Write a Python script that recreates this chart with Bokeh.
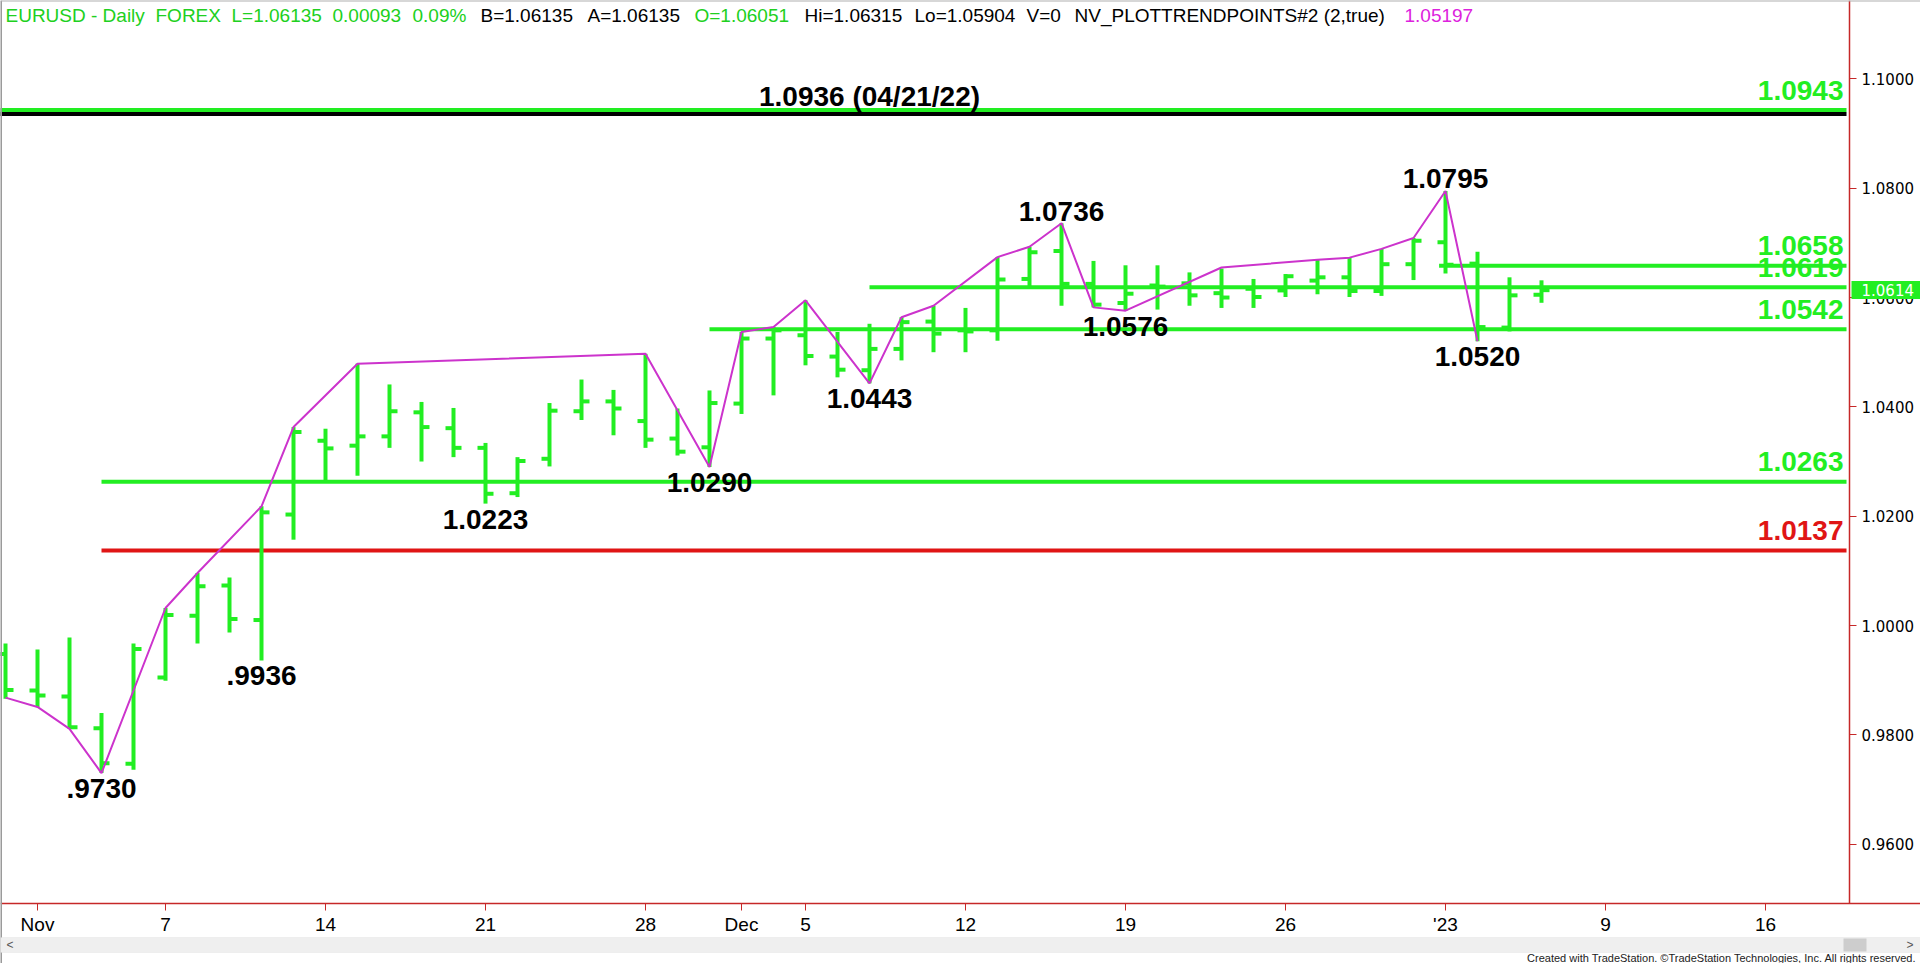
from bokeh.plotting import figure
from bokeh.models import (Range1d, FixedTicker, NumeralTickFormatter, ColumnDataSource,
                          Label, Span, BoxAnnotation)
from bokeh.core.properties import value
from bokeh.embed import file_html
from bokeh.resources import INLINE

# ---------------- data ----------------
dates = ["Oct 31", "Nov 1", "Nov 2", "Nov 3", "Nov 4", "Nov 7", "Nov 8", "Nov 9", "Nov 10", "Nov 11",
         "Nov 14", "Nov 15", "Nov 16", "Nov 17", "Nov 18", "Nov 21", "Nov 22", "Nov 23", "Nov 24", "Nov 25",
         "Nov 28", "Nov 29", "Nov 30", "Dec 1", "Dec 2", "Dec 5", "Dec 6", "Dec 7", "Dec 8", "Dec 9",
         "Dec 12", "Dec 13", "Dec 14", "Dec 15", "Dec 16", "Dec 19", "Dec 20", "Dec 21", "Dec 22", "Dec 23",
         "Dec 26", "Dec 27", "Dec 28", "Dec 29", "Dec 30", "Jan 2", "Jan 3", "Jan 4", "Jan 5"]
opens = [0.9948, 0.9881, 0.9870, 0.9812, 0.9747, 0.9905, 1.0018, 1.0073, 1.0010, 1.0203,
         1.0338, 1.0329, 1.0346, 1.0390, 1.0361, 1.0325, 1.0242, 1.0305, 1.0392, 1.0410,
         1.0374, 1.0342, 1.0326, 1.0406, 1.0525, 1.0531, 1.0492, 1.0467, 1.0506, 1.0556,
         1.0540, 1.0540, 1.0634, 1.0685, 1.0625, 1.0590, 1.0622, 1.0626, 1.0608, 1.0616,
         1.0613, 1.0631, 1.0637, 1.0612, 1.0661, 1.0701, 1.0662, 1.0545, 1.06051]
highs = [0.9967, 0.9956, 0.9978, 0.9840, 0.9967, 1.0032, 1.0096, 1.0088, 1.0218, 1.0363,
         1.0360, 1.0479, 1.0441, 1.0409, 1.0398, 1.0334, 1.0308, 1.0407, 1.0450, 1.0431,
         1.0497, 1.0397, 1.0430, 1.0537, 1.0546, 1.0595, 1.0537, 1.0552, 1.0564, 1.0585,
         1.0581, 1.0674, 1.0693, 1.0736, 1.0667, 1.0659, 1.0659, 1.0646, 1.0653, 1.0634,
         1.0643, 1.0669, 1.0673, 1.0689, 1.0709, 1.0795, 1.0684, 1.0637, 1.06315]
lows = [0.9866, 0.9851, 0.9811, 0.9730, 0.9736, 0.9899, 0.9967, 0.9987, 0.9936, 1.0157,
        1.0262, 1.0274, 1.0325, 1.0300, 1.0308, 1.0223, 1.0235, 1.0291, 1.0376, 1.0348,
        1.0325, 1.0311, 1.0290, 1.0387, 1.0421, 1.0476, 1.0454, 1.0443, 1.0485, 1.0500,
        1.0500, 1.0521, 1.0616, 1.0585, 1.0582, 1.0576, 1.0578, 1.0585, 1.0581, 1.0581,
        1.0601, 1.0606, 1.0601, 1.0603, 1.0632, 1.0644, 1.0520, 1.0538, 1.05904]
closes = [0.9882, 0.9872, 0.9814, 0.9748, 0.9957, 1.0019, 1.0072, 1.0012, 1.0207, 1.0354,
          1.0324, 1.0346, 1.0392, 1.0363, 1.0325, 1.0241, 1.0301, 1.0393, 1.0410, 1.0397,
          1.0340, 1.0318, 1.0407, 1.0525, 1.0540, 1.0493, 1.0468, 1.0506, 1.0555, 1.0534,
          1.0538, 1.0633, 1.0683, 1.0625, 1.0587, 1.0607, 1.0620, 1.0604, 1.0600, 1.0601,
          1.0639, 1.0637, 1.0612, 1.0661, 1.0704, 1.0660, 1.0546, 1.0604, 1.06135]

trend_idx = [0, 1, 2, 3, 5, 6, 8, 9, 11, 20, 22, 23, 24, 25, 27, 28, 29, 31, 32, 33,
             34, 35, 38, 41, 42, 43, 44, 45, 46]
trend_val = [0.9868, 0.9851, 0.9811, 0.9730, 1.0032, 1.0096, 1.0218, 1.0363, 1.0479, 1.0497,
             1.0290, 1.0537, 1.0546, 1.0595, 1.0443, 1.0564, 1.0585, 1.0674, 1.0693, 1.0736,
             1.0582, 1.0576, 1.0655, 1.0669, 1.0673, 1.0689, 1.0709, 1.0795, 1.0520]

level_vals = [1.0936, 1.0943, 1.0658, 1.0619, 1.0542, 1.0263, 1.0137]
level_start = [-1, -1, 44.8, 27, 22, 3, 3]
level_colors = ["black", "#22ee22", "#22ee22", "#22ee22", "#22ee22", "#22ee22", "#e01515"]

right_texts = ["1.0943", "1.0658", "1.0619", "1.0542", "1.0263", "1.0137"]
right_vals = [1.0943, 1.0658, 1.0619, 1.0542, 1.0263, 1.0137]
right_colors = ["#22ee22", "#22ee22", "#22ee22", "#22ee22", "#22ee22", "#e01515"]

low_idx = [3, 8, 15, 22, 27, 35, 46]
low_vals = [0.9730, 0.9936, 1.0223, 1.0290, 1.0443, 1.0576, 1.0520]
low_texts = [".9730", ".9936", "1.0223", "1.0290", "1.0443", "1.0576", "1.0520"]
high_idx = [33, 45]
high_vals = [1.0736, 1.0795]
high_texts = ["1.0736", "1.0795"]

old_high_idx = 27
old_high_val = 1.0936
old_high_text = "1.0936 (04/21/22)"

tick_idx = [1, 5, 10, 15, 20, 23, 25, 30, 35, 40, 45, 50, 55]
tick_labels = ["Nov", "7", "14", "21", "28", "Dec", "5", "12", "19", "26", "'23", "9", "16"]
y_ticks = [0.96, 0.98, 1.00, 1.02, 1.04, 1.06, 1.08, 1.10]

last_price = 1.0614

header_texts = ["EURUSD - Daily", "FOREX", "L=1.06135", "0.00093", "0.09%",
                "B=1.06135", "A=1.06135", "O=1.06051", "Hi=1.06315", "Lo=1.05904",
                "V=0", "NV_PLOTTRENDPOINTS#2 (2,true)", "1.05197"]
header_colors = ["#20d020"] * 5 + ["black", "black", "#20d020"] + ["black"] * 4 + ["#dd22dd"]
header_x = [5, 155, 231, 332, 412, 480, 587, 694, 804, 914, 1026, 1074, 1404]  # page px

# ---------------- geometry (page pixels) ----------------
W, H = 1920, 963
ppx = 32.0          # px per bar
ppy = 5466.0        # px per price unit
x0 = -5 / ppx
x1 = x0 + W / ppx
y_top = 1.1 + 78.4 / ppy
y_bot = y_top - H / ppy


def X(px):
    return x0 + px / ppx


def Y(py):
    return y_top - py / ppy


AX_X = X(1849)      # right price-axis position
AX_Y = Y(903)       # time-axis position

GREEN = "#22ee22"
MAG = "#cc33cc"
AXRED = "#c62828"

p = figure(width=W, height=H, x_range=Range1d(x0, x1), y_range=Range1d(y_bot, y_top),
           y_axis_location="right", output_backend="svg", toolbar_location=None,
           min_border=0, min_border_left=0, min_border_top=0, min_border_right=0, min_border_bottom=0,
           background_fill_color="white", border_fill_color="white", outline_line_color=None)
p.grid.grid_line_color = None

xa = p.xaxis[0]
xa.fixed_location = AX_Y
xa.ticker = FixedTicker(ticks=tick_idx)
xa.major_label_overrides = {k: v for k, v in zip(tick_idx, tick_labels)}
xa.axis_line_color = AXRED
xa.axis_line_width = 1.5
xa.major_tick_line_color = AXRED
xa.major_tick_out = 7
xa.major_tick_in = 0
xa.minor_tick_line_color = None
xa.major_label_text_font = "Liberation Sans"
xa.major_label_text_font_size = "19px"
xa.major_label_text_color = "black"
xa.major_label_standoff = 3

ya = p.yaxis[0]
ya.fixed_location = AX_X
ya.bounds = (AX_Y, y_top)
ya.ticker = FixedTicker(ticks=y_ticks)
ya.formatter = NumeralTickFormatter(format="0.0000")
ya.axis_line_color = AXRED
ya.axis_line_width = 1.5
ya.major_tick_line_color = AXRED
ya.major_tick_out = 7
ya.major_tick_in = 0
ya.minor_tick_line_color = None
ya.major_label_text_font = "DejaVu Sans"
ya.major_label_text_font_size = "15px"
ya.major_label_text_color = "black"
ya.major_label_standoff = 5

# window borders
p.add_layout(Span(location=x0, dimension="height", line_color="#9a9a9a", line_width=3))
p.add_layout(Span(location=y_top, dimension="width", line_color="#b0b0b0", line_width=2))

# scroll bar band at the bottom of the window
p.add_layout(BoxAnnotation(left=0, right=W, top=937, bottom=952,
                           left_units="canvas", right_units="canvas",
                           top_units="canvas", bottom_units="canvas",
                           fill_color="#efefef", fill_alpha=1.0, line_color="#dadada"))
p.add_layout(BoxAnnotation(left=1843, right=1866, top=938, bottom=951,
                           left_units="canvas", right_units="canvas",
                           top_units="canvas", bottom_units="canvas",
                           fill_color="#cdcdcd", fill_alpha=1.0, line_color=None))
p.add_layout(Label(x=6, y=944, x_units="canvas", y_units="canvas", text="<",
                   text_font="Liberation Sans", text_font_size="12px", text_color="#555555",
                   text_baseline="middle"))
p.add_layout(Label(x=1906, y=944, x_units="canvas", y_units="canvas", text=">",
                   text_font="Liberation Sans", text_font_size="12px", text_color="#555555",
                   text_baseline="middle"))

# level lines
p.segment(x0=level_start, y0=level_vals, x1=[X(1846)] * len(level_vals), y1=level_vals,
          line_color=level_colors, line_width=4)

# OHLC bars
idx = list(range(len(dates)))
TW = 0.25
src = ColumnDataSource(dict(x=idx, o=opens, h=highs, l=lows, c=closes,
                            xl=[i - TW for i in idx], xr=[i + TW for i in idx]))
p.segment(x0="x", y0="l", x1="x", y1="h", source=src, line_color=GREEN, line_width=4)
p.segment(x0="xl", y0="o", x1="x", y1="o", source=src, line_color=GREEN, line_width=4)
p.segment(x0="x", y0="c", x1="xr", y1="c", source=src, line_color=GREEN, line_width=4)

# trend points line
p.line(trend_idx, trend_val, line_color=MAG, line_width=2)

# pivot labels
bold = dict(text_font=value("Liberation Sans"), text_font_style="bold", text_font_size="28px")
p.text(x=low_idx, y=low_vals, text=low_texts, text_align="center", text_baseline="top",
       y_offset=6, text_color="black", **bold)
p.text(x=high_idx, y=high_vals, text=high_texts, text_align="center", text_baseline="alphabetic",
       y_offset=-12, text_color="black", **bold)
p.text(x=[old_high_idx], y=[old_high_val], text=[old_high_text], text_align="center",
       text_baseline="alphabetic", y_offset=-17, text_color="black", **bold)

# right level labels
p.text(x=[X(1843)] * len(right_texts), y=right_vals, text=right_texts, text_align="right",
       text_baseline="alphabetic", y_offset=-20, text_color=right_colors, **bold)

# header status line
p.text(x=[X(v) for v in header_x], y=[Y(15)] * len(header_texts), text=header_texts,
       text_color=header_colors, text_font=value("Liberation Sans"), text_font_size="19px",
       text_align="left", text_baseline="alphabetic")

# last price marker
p.add_layout(Label(x=1851, y=last_price, x_units="canvas", y_units="data", text="1.0614",
                   text_font="DejaVu Sans", text_font_size="15px", text_color="white",
                   text_baseline="middle", text_align="left",
                   background_fill_color=GREEN, padding=dict(left=10, right=12, top=3, bottom=3)))

# footer
p.add_layout(Label(x=1916, y=957, x_units="canvas", y_units="canvas",
                   text="Created with TradeStation. \u00a9TradeStation Technologies, Inc. All rights reserved.",
                   text_font="Liberation Sans", text_font_size="11px", text_color="#222222",
                   text_align="right", text_baseline="middle"))

open("out.html", "w").write(file_html(p, INLINE))
